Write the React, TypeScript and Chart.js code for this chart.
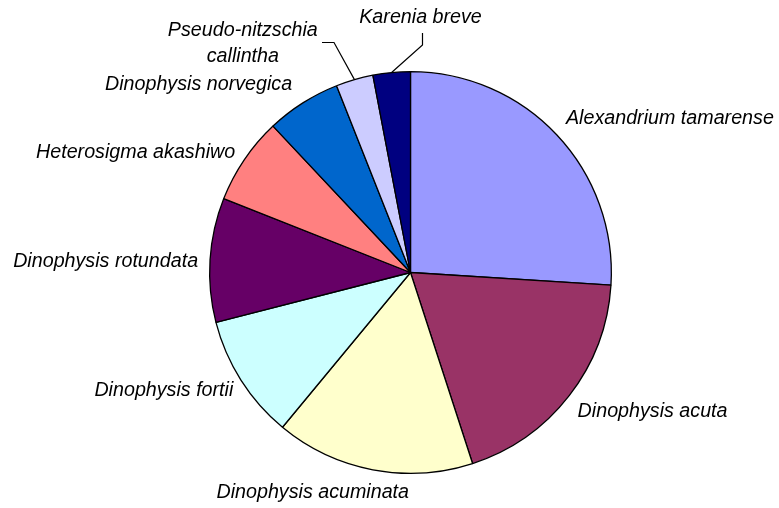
import React, { useEffect, useRef } from "react";
import { Chart, registerables } from "chart.js";

Chart.register(...registerables);

const categories = [
  "Alexandrium tamarense",
  "Dinophysis acuta",
  "Dinophysis acuminata",
  "Dinophysis fortii",
  "Dinophysis rotundata",
  "Heterosigma akashiwo",
  "Dinophysis norvegica",
  "Pseudo-nitzschia callintha",
  "Karenia breve",
];
const values = [26, 19, 16, 10, 10, 7, 6, 3, 3];
const colors = [
  "#9999FF",
  "#993366",
  "#FFFFCC",
  "#CCFFFF",
  "#660066",
  "#FF8080",
  "#0066CC",
  "#CCCCFF",
  "#000080",
];

// label layout: text lines, alignment and nudge relative to the anchor just outside the arc
type LabelCfg = {
  lines: string[];
  align: CanvasTextAlign;
  dx: number;
  dy: number;
  leader?: boolean;
};
const labelCfg: LabelCfg[] = [
  { lines: ["Alexandrium tamarense"], align: "left", dx: -7, dy: -1 },
  { lines: ["Dinophysis acuta"], align: "left", dx: -9, dy: 2 },
  { lines: ["Dinophysis acuminata"], align: "center", dx: -56, dy: 1 },
  { lines: ["Dinophysis fortii"], align: "right", dx: 11, dy: -1 },
  { lines: ["Dinophysis rotundata"], align: "right", dx: 10, dy: 3 },
  { lines: ["Heterosigma akashiwo"], align: "right", dx: 9, dy: 5 },
  { lines: ["Dinophysis norvegica"], align: "right", dx: 1, dy: 0 },
  { lines: ["Pseudo-nitzschia", "callintha"], align: "center", dx: -105.5, dy: -28, leader: true },
  { lines: ["Karenia breve"], align: "center", dx: 31, dy: -33, leader: true },
];

const FONT = "italic 19.7px 'Liberation Sans', Arial, sans-serif";

const labelPlugin = {
  id: "pieLabels",
  afterDatasetsDraw(chart: any) {
    const ctx = chart.ctx as CanvasRenderingContext2D;
    const meta = chart.getDatasetMeta(0);
    ctx.save();
    ctx.font = FONT;
    ctx.fillStyle = "#000";
    ctx.strokeStyle = "#000";
    ctx.lineWidth = 1.2;
    ctx.textBaseline = "middle";
    meta.data.forEach((arc: any, i: number) => {
      const cfg = labelCfg[i];
      const { x, y, startAngle, endAngle, outerRadius } = arc.getProps(
        ["x", "y", "startAngle", "endAngle", "outerRadius"],
        true
      );
      const mid = (startAngle + endAngle) / 2;
      const ax = x + Math.cos(mid) * (outerRadius + 22);
      const ay = y + Math.sin(mid) * (outerRadius + 22);
      const tx = ax + cfg.dx;
      const ty = ay + cfg.dy;
      ctx.textAlign = cfg.align;
      const lh = 26;
      cfg.lines.forEach((ln, k) => {
        ctx.fillText(ln, tx, ty + k * lh);
      });
      if (cfg.leader) {
        const ex = x + Math.cos(mid) * outerRadius;
        const ey = y + Math.sin(mid) * outerRadius;
        ctx.beginPath();
        if (cfg.lines.length > 1) {
          const w = ctx.measureText(cfg.lines[0]).width;
          const sx = Math.round(tx + w / 2 + 4);
          const sy = Math.round(ty + 12) + 0.5;
          ctx.moveTo(sx, sy);
          ctx.lineTo(sx + 12, sy);
          ctx.lineTo(ex, ey);
        } else {
          const lx = Math.round(tx + 1) + 0.5;
          const sy = Math.round(ty + 15);
          ctx.moveTo(lx, sy);
          ctx.lineTo(lx, sy + 12);
          ctx.lineTo(ex, ey);
        }
        ctx.stroke();
      }
    });
    ctx.restore();
  },
};

export default function App() {
  const ref = useRef<HTMLCanvasElement | null>(null);
  useEffect(() => {
    if (!ref.current) return;
    const chart = new Chart(ref.current, {
      type: "pie",
      data: {
        labels: categories,
        datasets: [
          {
            data: values,
            backgroundColor: colors,
            borderColor: "#000",
            borderWidth: 1.3,
          },
        ],
      },
      options: {
        responsive: false,
        animation: false,
        layout: { padding: { left: 209, right: 167, top: 71, bottom: 34 } },
        plugins: {
          legend: { display: false },
          tooltip: { enabled: false },
        },
      },
      plugins: [labelPlugin],
    });
    return () => chart.destroy();
  }, []);
  return (
    <div style={{ position: "fixed", left: 0, top: 0, width: 779, height: 508, background: "#fff" }}>
      <canvas ref={ref} width={779} height={508} style={{ display: "block" }} />
    </div>
  );
}
